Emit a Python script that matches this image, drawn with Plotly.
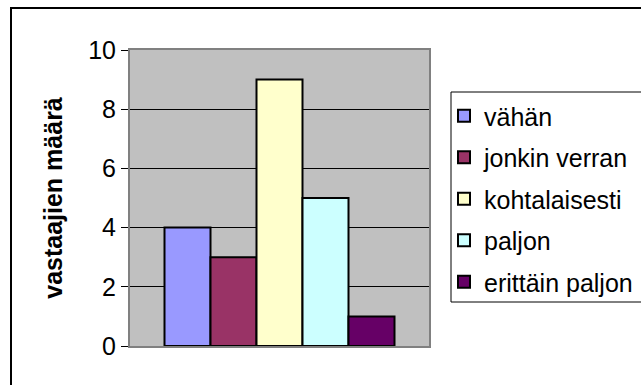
import plotly.graph_objects as go

# ---- data ----
categories = ["vähän", "jonkin verran", "kohtalaisesti", "paljon", "erittäin paljon"]
values = [4, 3, 9, 5, 1]
colors = ["#9999FF", "#993366", "#FFFFCC", "#CCFFFF", "#660066"]
y_ticks = [0, 2, 4, 6, 8, 10]
y_title = "vastaajien määrä"
group_label = ["vastaukset"]

# ---- layout constants (pixels) ----
W, H = 641, 385
L, R, T, B = 130, 429, 50, 346
pw, ph = R - L, B - T

def px_x(x):
    return (x - L) / pw

def px_y(y):
    return (B - y) / ph

FONT = "Liberation Sans, Arial, sans-serif"

fig = go.Figure()
for i, (name, v, c) in enumerate(zip(categories, values, colors)):
    fig.add_trace(go.Bar(
        x=group_label, y=[v], name=name,
        marker=dict(color=c, line=dict(color="black", width=2)),
        legendgroup=f"g{i}",
    ))

fig.update_layout(
    width=W, height=H,
    margin=dict(l=L, r=W - R, t=T, b=H - B, autoexpand=False),
    paper_bgcolor="white",
    plot_bgcolor="#C0C0C0",
    barmode="group",
    bargap=1 - 230 / pw,
    bargroupgap=0,
    font=dict(family=FONT, color="black"),
    showlegend=True,
    legend=dict(
        x=px_x(444), y=px_y(93), xanchor="left", yanchor="top",
        bgcolor="rgba(0,0,0,0)", borderwidth=0,
        font=dict(size=25, family=FONT, color="black"),
        tracegroupgap=6,
        itemclick=False, itemdoubleclick=False,
    ),
    xaxis=dict(
        showticklabels=False, ticks="", showgrid=False,
        showline=True, linecolor="#808080", linewidth=2, mirror=True,
        fixedrange=True,
    ),
    yaxis=dict(
        range=[0, 10], tickvals=y_ticks, ticktext=[str(t) for t in y_ticks],
        ticks="outside", ticklen=7, tickcolor="black", tickwidth=1,
        tickfont=dict(size=25, family=FONT, color="black"),
        showgrid=True, gridcolor="black", gridwidth=1,
        showline=True, linecolor="#808080", linewidth=2, mirror=True,
        zeroline=False,
        title=dict(text=y_title, font=dict(size=25, family=FONT, color="black", weight="bold"),
                   standoff=18),
        fixedrange=True,
    ),
    shapes=[
        dict(
            type="rect", xref="paper", yref="paper",
            x0=px_x(11), x1=px_x(660), y0=px_y(8), y1=px_y(400),
            line=dict(color="black", width=2), fillcolor="rgba(0,0,0,0)", layer="below",
        ),
        # legend frame
        dict(
            type="rect", xref="paper", yref="paper",
            x0=px_x(451), x1=px_x(660), y0=px_y(92), y1=px_y(302),
            line=dict(color="black", width=1), fillcolor="white", layer="below",
        ),
    ],
)

fig.write_html("out.html")
